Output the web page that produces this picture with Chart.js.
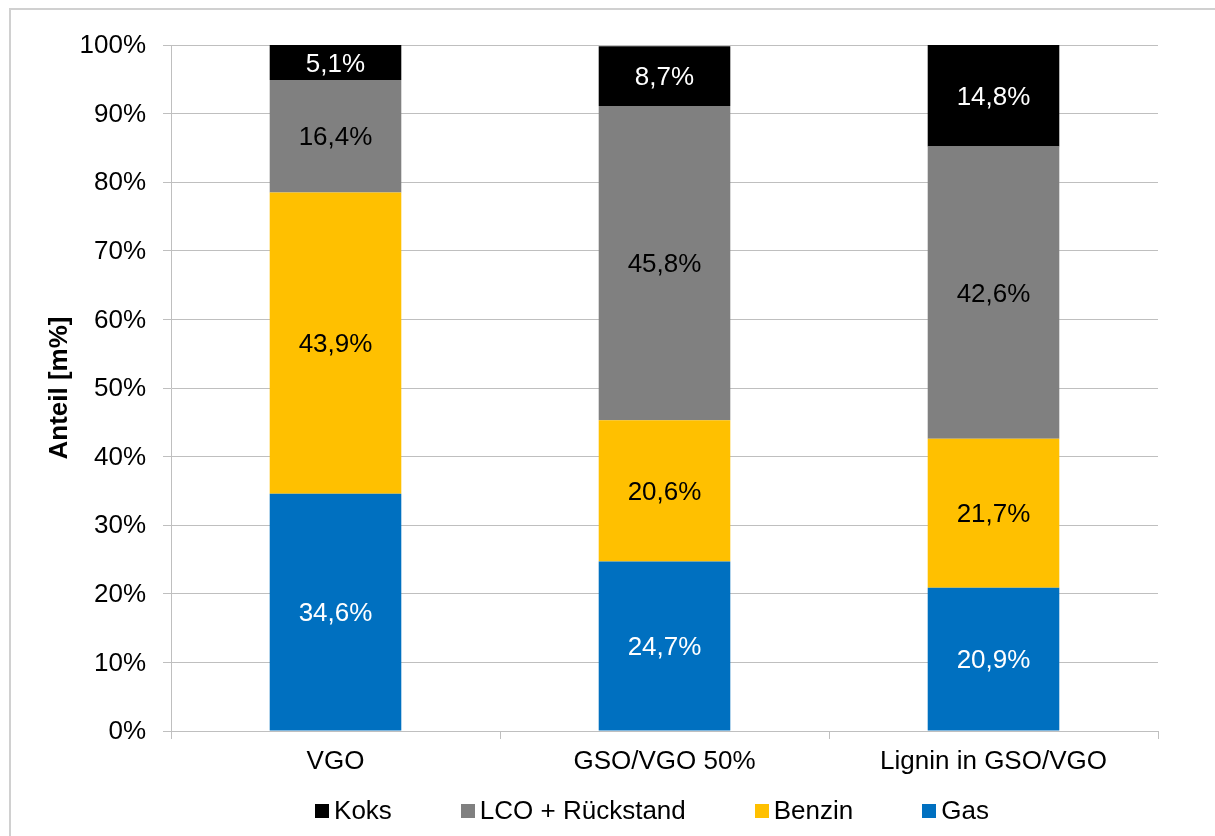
<!DOCTYPE html>
<html lang="de">
<head>
<meta charset="utf-8">
<title>Produktverteilung</title>
<script src="https://cdn.jsdelivr.net/npm/chart.js@4.4.1/dist/chart.umd.min.js"></script>
<style>
  html, body { margin: 0; padding: 0; background: #ffffff; }
  #wrap { position: relative; width: 1215px; height: 836px; overflow: hidden; }
  canvas { display: block; }
</style>
</head>
<body>
<div id="wrap"><canvas id="chart" width="1215" height="836"></canvas></div>
<script>
// Feedstocks on the x axis
const categories = ['VGO', 'GSO/VGO 50%', 'Lignin in GSO/VGO'];

// Product shares in mass percent, stacked bottom to top
const gas    = [34.6, 24.7, 20.9];
const benzin = [43.9, 20.6, 21.7];
const lco    = [16.4, 45.8, 42.6];
const koks   = [5.1, 8.7, 14.8];

// Series names as shown in the legend
const seriesNames = ['Gas', 'Benzin', 'LCO + Rückstand', 'Koks'];

// Percent ticks on the value axis
const yTicks = [0, 10, 20, 30, 40, 50, 60, 70, 80, 90, 100];

const FONT = '"Liberation Sans", Arial, Helvetica, sans-serif';
const FS = 26;
const GRID = '#bfbfbf';

const seriesColors = ['#0070C0', '#FFC000', '#808080', '#000000'];
const labelColors  = ['#ffffff', '#000000', '#000000', '#ffffff'];

const fmt = v => v.toFixed(1).replace('.', ',') + '%';

// Frame around the whole chart
const framePlugin = {
  id: 'frame',
  beforeDraw(chart) {
    const ctx = chart.ctx;
    ctx.save();
    ctx.fillStyle = '#ffffff';
    ctx.fillRect(0, 0, chart.width, chart.height);
    ctx.strokeStyle = '#d0d0d0';
    ctx.lineWidth = 2;
    ctx.strokeRect(10, 9, chart.width + 20, chart.height + 20);
    ctx.restore();
  }
};

// Value labels centred in each bar segment
const valueLabels = {
  id: 'valueLabels',
  afterDatasetsDraw(chart) {
    const ctx = chart.ctx;
    ctx.save();
    ctx.font = FS + 'px ' + FONT;
    ctx.textAlign = 'center';
    ctx.textBaseline = 'middle';
    chart.data.datasets.forEach((ds, i) => {
      const meta = chart.getDatasetMeta(i);
      meta.data.forEach((bar, j) => {
        const v = ds.data[j];
        const y = (bar.y + bar.base) / 2 + 2;
        ctx.fillStyle = labelColors[i];
        ctx.fillText(fmt(v), bar.x, y);
      });
    });
    ctx.restore();
  }
};

// Legend row below the axis, top series first
const legendRow = {
  id: 'legendRow',
  afterDraw(chart) {
    const ctx = chart.ctx;
    ctx.save();
    ctx.font = FS + 'px ' + FONT;
    ctx.textBaseline = 'middle';
    const box = 14, boxGap = 5, itemGap = 69;
    const order = [3, 2, 1, 0];
    const widths = order.map(i => box + boxGap + ctx.measureText(chart.data.datasets[i].label).width);
    const total = widths.reduce((a, b) => a + b, 0) + itemGap * (order.length - 1);
    const cx = 652;
    const cy = 811;
    let x = cx - total / 2;
    order.forEach((i, k) => {
      ctx.fillStyle = seriesColors[i];
      ctx.fillRect(Math.round(x), Math.round(cy - box / 2), box, box);
      ctx.fillStyle = '#000000';
      ctx.fillText(chart.data.datasets[i].label, x + box + boxGap, cy + 1);
      x += widths[k] + itemGap;
    });
    ctx.restore();
  }
};

const seriesData = [gas, benzin, lco, koks];

new Chart(document.getElementById('chart'), {
  type: 'bar',
  data: {
    labels: categories,
    datasets: seriesData.map((d, i) => ({
      label: seriesNames[i],
      data: d,
      backgroundColor: seriesColors[i],
      borderWidth: 0,
      categoryPercentage: 0.5,
      barPercentage: 0.8
    }))
  },
  plugins: [framePlugin, valueLabels, legendRow],
  options: {
    responsive: false,
    animation: false,
    devicePixelRatio: 1,
    layout: { padding: { left: 0, right: 57, top: 45, bottom: 0 } },
    plugins: {
      legend: { display: false },
      tooltip: { enabled: false },
      title: { display: false }
    },
    scales: {
      x: {
        stacked: true,
        afterFit(scale) { scale.height = 105; },
        border: { display: true, color: GRID, width: 1 },
        grid: {
          offset: true,
          drawOnChartArea: false,
          drawTicks: true,
          tickLength: 8,
          color: GRID
        },
        ticks: {
          color: '#000000',
          padding: 7,
          font: { family: FONT, size: FS }
        }
      },
      y: {
        stacked: true,
        min: 0,
        max: 100,
        afterFit(scale) { scale.width = 171; },
        afterBuildTicks(scale) { scale.ticks = yTicks.map(v => ({ value: v })); },
        border: { display: true, color: GRID, width: 1 },
        grid: {
          color: GRID,
          drawTicks: true,
          tickLength: 8
        },
        ticks: {
          color: '#000000',
          padding: 17,
          labelOffset: 1,
          font: { family: FONT, size: FS },
          callback: v => v + '%'
        },
        title: {
          display: true,
          text: 'Anteil [m%]',
          color: '#000000',
          font: { family: FONT, size: FS, weight: 'bold' },
          padding: { top: 44, bottom: 0 }
        }
      }
    }
  }
});
</script>
</body>
</html>
